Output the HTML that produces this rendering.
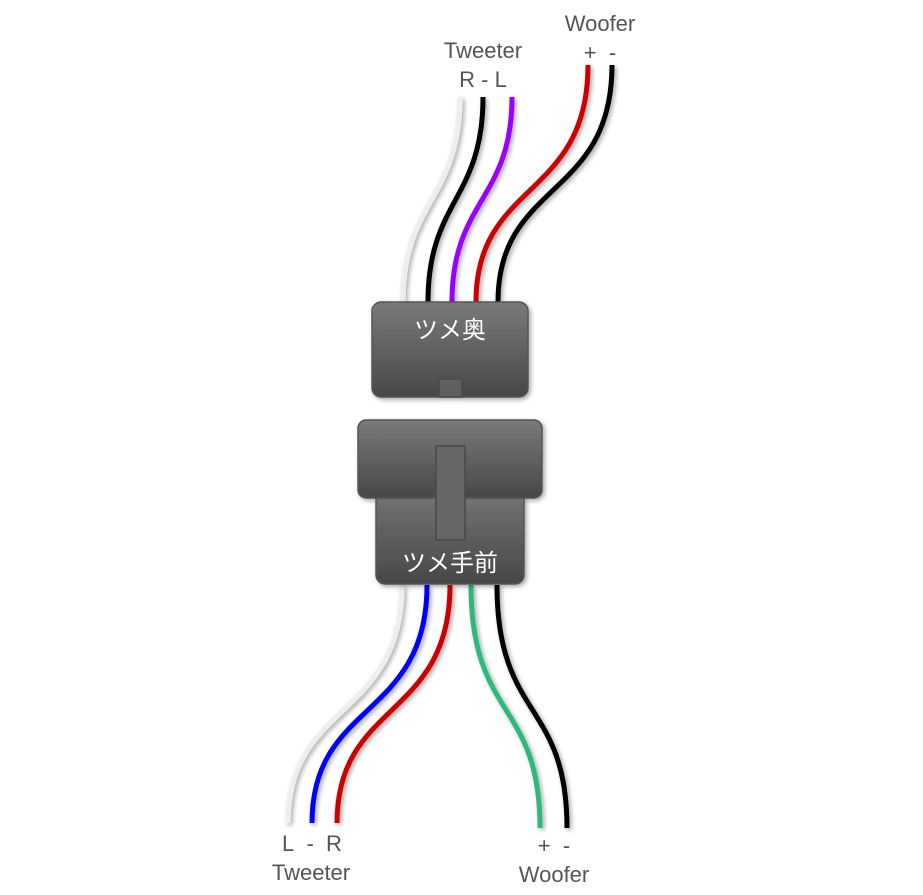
<!DOCTYPE html>
<html><head><meta charset="utf-8"><style>
body{margin:0;background:#fff;}
svg{display:block}
text{font-family:"Liberation Sans","Noto Sans CJK JP",sans-serif;}
</style></head><body>
<svg width="923" height="895" viewBox="0 0 923 895" xmlns="http://www.w3.org/2000/svg">
<defs>
<linearGradient id="g" x1="0" y1="0" x2="0" y2="1"><stop offset="0" stop-color="#7a7a7a"/><stop offset="1" stop-color="#474747"/></linearGradient>
<filter id="sh" x="-20%" y="-20%" width="140%" height="140%"><feGaussianBlur in="SourceAlpha" stdDeviation="2.5"/><feOffset dx="2" dy="2"/><feComponentTransfer><feFuncA type="linear" slope="0.35"/></feComponentTransfer><feMerge><feMergeNode/><feMergeNode in="SourceGraphic"/></feMerge></filter>
</defs>
<g fill="none" stroke-width="5" filter="url(#sh)">
<path d="M460 97 C460 200 403 200 403 302" stroke="#eeeeee"/>
<path d="M483 97 C483 200 428 200 428 302" stroke="#000"/>
<path d="M512 97 C512 200 452 200 452 302" stroke="#9900ff"/>
<path d="M588 65 C588 200 476 180 476 302" stroke="#cc0000"/>
<path d="M612 65 C612 200 498 180 498 302" stroke="#000"/>
<path d="M402 585 C402 720 288 700 288 823" stroke="#eeeeee"/>
<path d="M427 585 C427 720 312 700 312 823" stroke="#0000ff"/>
<path d="M450 585 C450 720 337 700 337 823" stroke="#cc0000"/>
<path d="M471 585 C471 720 540 700 540 828" stroke="#2db87d"/>
<path d="M497 585 C497 720 567 700 567 828" stroke="#000"/>
</g>
<g stroke="#555" stroke-width="1.5" filter="url(#sh)">
<rect x="372" y="302" width="156" height="95" rx="9" fill="url(#g)"/>
<rect x="439" y="379" width="23" height="18" fill="#5e5e5e" stroke="#4a4a4a"/>
<rect x="376" y="480" width="148" height="104" rx="9" fill="url(#g)"/>
<rect x="358" y="420" width="184" height="78" rx="8" fill="url(#g)"/>
<rect x="436" y="446" width="29" height="94" fill="#666" stroke="#4a4a4a"/>
</g>
<g fill="#fff" font-size="24" text-anchor="middle">
<text x="450" y="338">ツメ奥</text>
<text x="450" y="571">ツメ手前</text>
</g>
<g fill="#555" font-size="22" text-anchor="middle">
<text x="600" y="31">Woofer</text>
<text x="600" y="60">+&#160;&#160;-</text>
<text x="483" y="58">Tweeter</text>
<text x="483" y="87">R - L</text>
<text x="312" y="851">L&#160;&#160;-&#160;&#160;R</text>
<text x="311" y="880">Tweeter</text>
<text x="554" y="853">+&#160;&#160;-</text>
<text x="554" y="882">Woofer</text>
</g>
</svg>
</body></html>
